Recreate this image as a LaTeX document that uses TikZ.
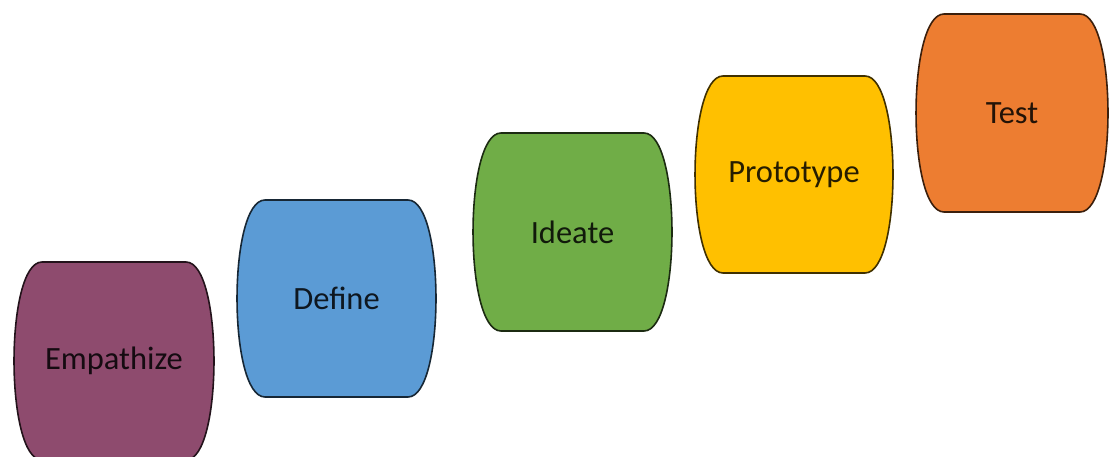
\documentclass[tikz,border=0pt]{standalone}
\usepackage{fontspec}
\setmainfont{Carlito}
\definecolor{cEmp}{HTML}{8E4B6E}
\definecolor{cDef}{HTML}{5B9BD5}
\definecolor{cIde}{HTML}{70AD47}
\definecolor{cPro}{HTML}{FFC000}
\definecolor{cTes}{HTML}{ED7D31}
\tikzset{
  barrelshape/.style={line width=1.6pt, line join=round},
  lbl/.style={font=\fontsize{32.5}{38}\selectfont, inner sep=0pt}
}
% #1 name, #2 left, #3 top, #4 right, #5 bottom, #6 colour, #7 text
\newcommand{\barrelbox}[7]{%
  \path[barrelshape, fill=#6, draw=#6!25!black]
    (#2+28,#3) -- (#4-28,#3)
    .. controls (#4+9.3,#3) and (#4+9.3,#5) .. (#4-28,#5)
    -- (#2+28,#5)
    .. controls (#2-9.3,#5) and (#2-9.3,#3) .. (#2+28,#3) -- cycle;
  \node[lbl, text=#6!15!black] (#1) at ({(#2+#4)/2},{(#3+#5)/2}) {#7};%
}
\begin{document}
\begin{tikzpicture}[x=1pt,y=-1pt]
  \useasboundingbox (0,0) rectangle (1110,457);
  \barrelbox{emp}{14}{262}{214}{460}{cEmp}{Empathize}
  \barrelbox{def}{237}{200}{436}{397}{cDef}{Define}
  \barrelbox{ide}{473}{133}{672}{331}{cIde}{Ideate}
  \barrelbox{pro}{695}{76}{893}{273}{cPro}{Prototype}
  \barrelbox{tes}{916}{14}{1108}{212}{cTes}{Test}
\end{tikzpicture}
\end{document}
